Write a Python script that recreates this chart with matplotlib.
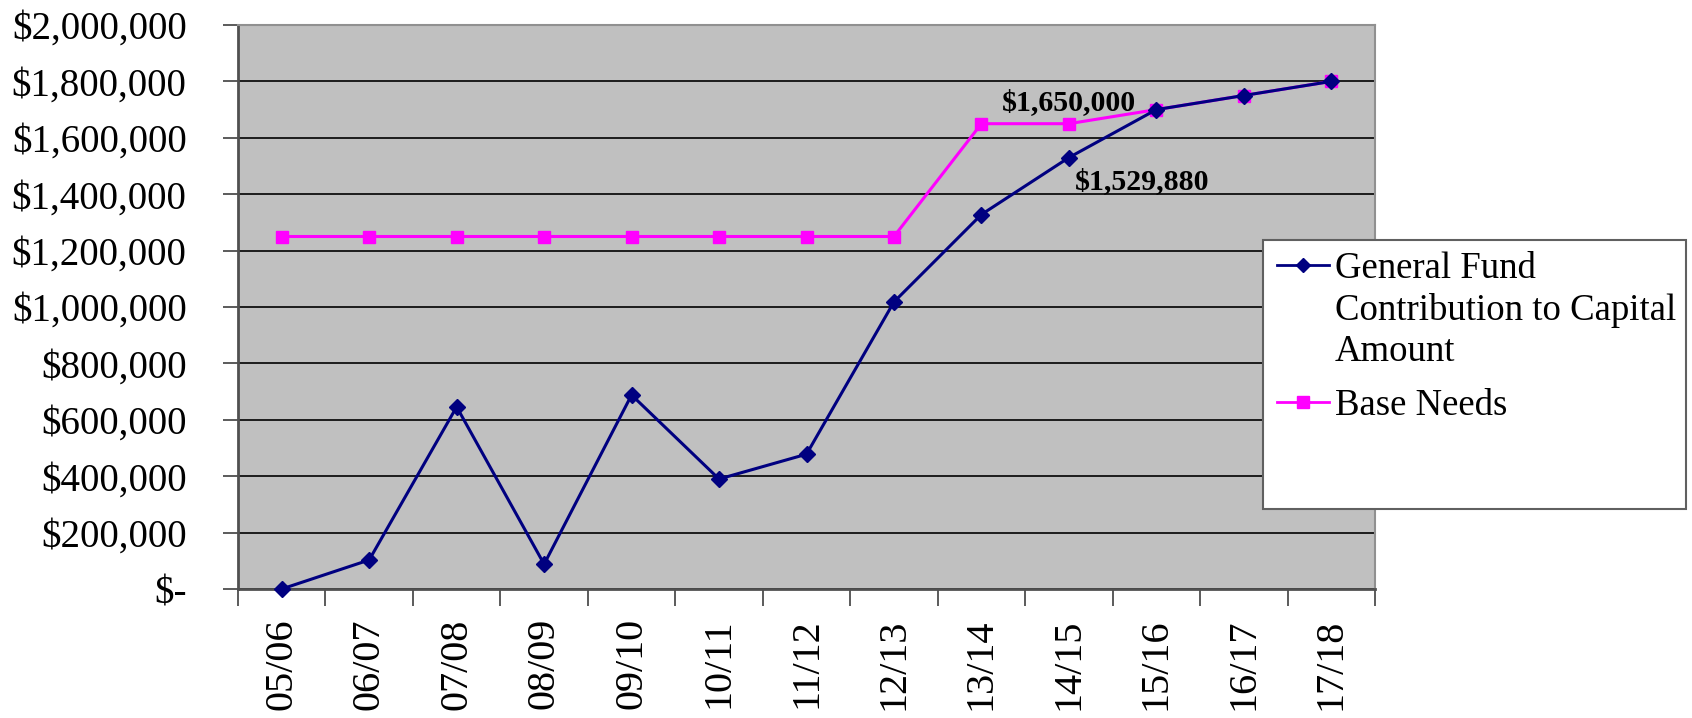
import matplotlib
matplotlib.use('Agg')
import matplotlib.pyplot as plt
from matplotlib.patches import Rectangle
from matplotlib.lines import Line2D
from matplotlib.ticker import FuncFormatter, FixedLocator

# --- data ---
YEARS = ['05/06', '06/07', '07/08', '08/09', '09/10', '10/11', '11/12',
         '12/13', '13/14', '14/15', '15/16', '16/17', '17/18']
GENERAL_FUND = [0, 103000, 646000, 88000, 688000, 390000, 478000,
                1018000, 1328000, 1529880, 1700000, 1750000, 1800000]
BASE_NEEDS = [1250000, 1250000, 1250000, 1250000, 1250000, 1250000, 1250000,
              1250000, 1650000, 1650000, 1700000, 1750000, 1800000]

GF_LABEL = 'General Fund\nContribution to Capital\nAmount'
BN_LABEL = 'Base Needs'

GF_COLOR = '#000080'
BN_COLOR = '#FF00FF'

plt.rcParams['font.family'] = ['Liberation Serif', 'DejaVu Serif']

W, H = 1692, 718


def money(v, pos=None):
    if v == 0:
        return '$-'
    return '${:,.0f}'.format(v)


def fx(px):
    return px / W


def fy(py):
    return 1 - py / H


fig = plt.figure(figsize=(W / 100, H / 100), dpi=100)
ax = fig.add_axes([fx(238), fy(589), fx(1375 - 238), (589 - 25) / H])
ax.set_facecolor('#C0C0C0')

x = list(range(len(YEARS)))
ax.plot(x, GENERAL_FUND, color=GF_COLOR, lw=2.2, marker='D', ms=8.5,
        zorder=4, clip_on=False)
ax.plot(x, BASE_NEEDS, color=BN_COLOR, lw=2.2, marker='s', ms=9,
        zorder=3, clip_on=False)

ax.set_xlim(-0.5, len(YEARS) - 0.5)
ax.set_ylim(0, 2000000)
ax.set_yticks(range(0, 2000001, 200000))
ax.yaxis.set_major_formatter(FuncFormatter(money))
ax.grid(axis='y', color='black', lw=1.2)
ax.set_axisbelow(True)

ax.set_xticks(x)
ax.set_xticklabels(YEARS, rotation=90)
ax.xaxis.set_minor_locator(FixedLocator([i - 0.5 for i in range(len(YEARS) + 1)]))
ax.tick_params(axis='x', which='major', length=0, pad=21, labelsize=29)
ax.tick_params(axis='x', which='minor', length=12, width=1.2, color='#404040')
ax.tick_params(axis='y', length=11, width=1.2, pad=26, labelsize=28, color='#404040')

for side in ['left', 'bottom']:
    ax.spines[side].set_color('#505050')
    ax.spines[side].set_linewidth(2)
for side in ['top', 'right']:
    ax.spines[side].set_color('#909090')
    ax.spines[side].set_linewidth(1.5)

# data labels
ax.annotate(money(BASE_NEEDS[9]), (9, BASE_NEEDS[9]), xytext=(0, 15.5),
            textcoords='offset points', ha='center', va='center',
            fontsize=21.5, fontweight='bold')
ax.annotate(money(GENERAL_FUND[9]), (9, GENERAL_FUND[9]), xytext=(53, -17.5),
            textcoords='offset points', ha='center', va='center',
            fontsize=21.5, fontweight='bold')

# legend, drawn by hand so the key sits on the first text line
box = Rectangle((fx(1263), fy(509)), fx(1686 - 1263), (509 - 240) / H,
                transform=fig.transFigure, facecolor='white', edgecolor='#606060',
                lw=1.5, zorder=10)
fig.add_artist(box)

entries = [(GF_LABEL, GF_COLOR, 'D', 7), (BN_LABEL, BN_COLOR, 's', 9)]
row_y = 265
for label, color, marker, ms in entries:
    fig.add_artist(Line2D([fx(1277), fx(1329)], [fy(row_y), fy(row_y)],
                          transform=fig.transFigure, color=color, lw=2.0,
                          zorder=11))
    fig.add_artist(Line2D([fx(1303)], [fy(row_y)], transform=fig.transFigure,
                          color=color, marker=marker, ms=ms, lw=0, zorder=12))
    for line in label.split('\n'):
        fig.text(fx(1335), fy(row_y), line, ha='left', va='center_baseline',
                 fontsize=26.5, zorder=12)
        row_y += 41.5
    row_y += 12

fig.savefig('out.png', dpi=100)
